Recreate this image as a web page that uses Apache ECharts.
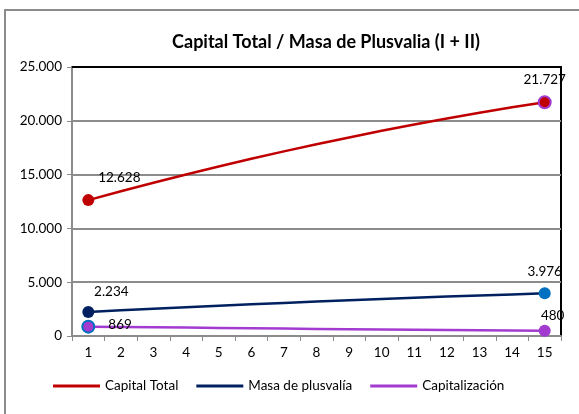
<!DOCTYPE html>
<html>
<head>
<meta charset="utf-8">
<script src="https://cdn.jsdelivr.net/npm/echarts@6/dist/echarts.min.js"></script>
<style>
  html, body { margin: 0; padding: 0; background: #fff; }
  #chart { width: 579px; height: 414px; }
</style>
</head>
<body>
<div id="chart"></div>
<script>
// data (inner points estimated)
var periods = ['1','2','3','4','5','6','7','8','9','10','11','12','13','14','15'];
var capitalTotal = [12628, 13448, 14242, 15010, 15752, 16468, 17157, 17820, 18457, 19068, 19653, 20212, 20744, 21250, 21727];
var masaPlusvalia = [2234, 2383, 2528, 2669, 2806, 2940, 3070, 3196, 3318, 3436, 3550, 3660, 3766, 3868, 3976];
var capitalizacion = [869, 840, 810, 780, 750, 720, 690, 660, 630, 605, 580, 555, 530, 505, 480];
var yTicks = [0, 5000, 10000, 15000, 20000, 25000];

var FONT = 'Lato';

function fmt(v) {
    return String(v).replace(/\B(?=(\d{3})+(?!\d))/g, '.');
}

// only first and last point get a marker and a label
function endPoints(values, first, last) {
    return values.map(function (v, i) {
        if (i === 0) return { value: v, symbolSize: 12, itemStyle: first.style, label: first.label };
        if (i === values.length - 1) return { value: v, symbolSize: 12, itemStyle: last.style, label: last.label };
        return { value: v, symbolSize: 0 };
    });
}

var lblBase = { show: true, color: '#000', fontFamily: FONT, fontSize: 13.5, formatter: function (p) { return fmt(p.value); } };
function lbl(extra) { return Object.assign({}, lblBase, extra); }

var chart = echarts.init(document.getElementById('chart'));
var option = {
    animation: false,
    graphic: [{
        type: 'rect', shape: { x: 5, y: 10, width: 620, height: 440 },
        style: { fill: 'none', stroke: '#8c8c8c', lineWidth: 2 }, silent: true
    }, {
        // black frame line along the top of the plot
        type: 'line', shape: { x1: 72, y1: 67, x2: 561, y2: 67 },
        style: { stroke: '#000', lineWidth: 2 }, z: 10, silent: true
    }],
    title: {
        text: 'Capital Total / Masa de Plusvalia (I + II)',
        left: 321, top: 28, textAlign: 'center',
        textStyle: { fontFamily: FONT, fontSize: 18, fontWeight: 'bold', color: '#000' }
    },
    grid: { left: 72, right: 18, top: 67, bottom: 78, show: true, borderColor: '#000', borderWidth: 2, backgroundColor: 'transparent' },
    legend: {
        bottom: 16, left: 48, itemGap: 18, itemWidth: 47, itemHeight: 3, icon: 'rect',
        textStyle: { fontFamily: FONT, fontSize: 13.5, color: '#000' },
        data: ['Capital Total', 'Masa de plusvalía', 'Capitalización']
    },
    xAxis: {
        type: 'category', data: periods, boundaryGap: true,
        axisLine: { lineStyle: { color: '#8c8c8c', width: 2 } },
        axisTick: { show: true, length: 5, lineStyle: { color: '#8c8c8c' } },
        axisLabel: { color: '#000', fontFamily: FONT, fontSize: 13.5, margin: 10 },
        splitLine: { show: false }
    },
    yAxis: {
        type: 'value', min: yTicks[0], max: yTicks[yTicks.length - 1], interval: 5000,
        axisLine: { show: true, lineStyle: { color: '#8c8c8c', width: 2 } },
        axisTick: { show: true, length: 5, lineStyle: { color: '#8c8c8c' } },
        axisLabel: { color: '#000', fontFamily: FONT, fontSize: 13.5, margin: 10, formatter: fmt },
        splitLine: { lineStyle: { color: '#8c8c8c', width: 2 } }
    },
    series: [
        {
            name: 'Capital Total', type: 'line', smooth: false, symbol: 'circle', z: 3,
            color: '#C00000',
            lineStyle: { color: '#C00000', width: 2.5 },
            data: endPoints(capitalTotal,
                { style: { color: '#C00000' }, label: lbl({ position: 'top', offset: [31, -4] }) },
                { style: { color: '#C00000', borderColor: '#A33BD0', borderWidth: 2 }, label: lbl({ position: 'top', offset: [0, -4] }) })
        },
        {
            name: 'Masa de plusvalía', type: 'line', symbol: 'circle', z: 3,
            color: '#002060',
            lineStyle: { color: '#002060', width: 2.5 },
            data: endPoints(masaPlusvalia,
                { style: { color: '#002060' }, label: lbl({ position: 'top', offset: [23, -2] }) },
                { style: { color: '#0070C0' }, label: lbl({ position: 'top', offset: [0, -4] }) })
        },
        {
            name: 'Capitalización', type: 'line', symbol: 'circle', z: 3,
            color: '#A33BD0',
            lineStyle: { color: '#A33BD0', width: 2.5 },
            data: endPoints(capitalizacion,
                { style: { color: '#A33BD0', borderColor: '#0070C0', borderWidth: 2 }, label: lbl({ position: 'right', offset: [8, -2] }) },
                { style: { color: '#A33BD0' }, label: lbl({ position: 'top', offset: [8, 3] }) })
        }
    ]
};
chart.setOption(option);
</script>
</body>
</html>
